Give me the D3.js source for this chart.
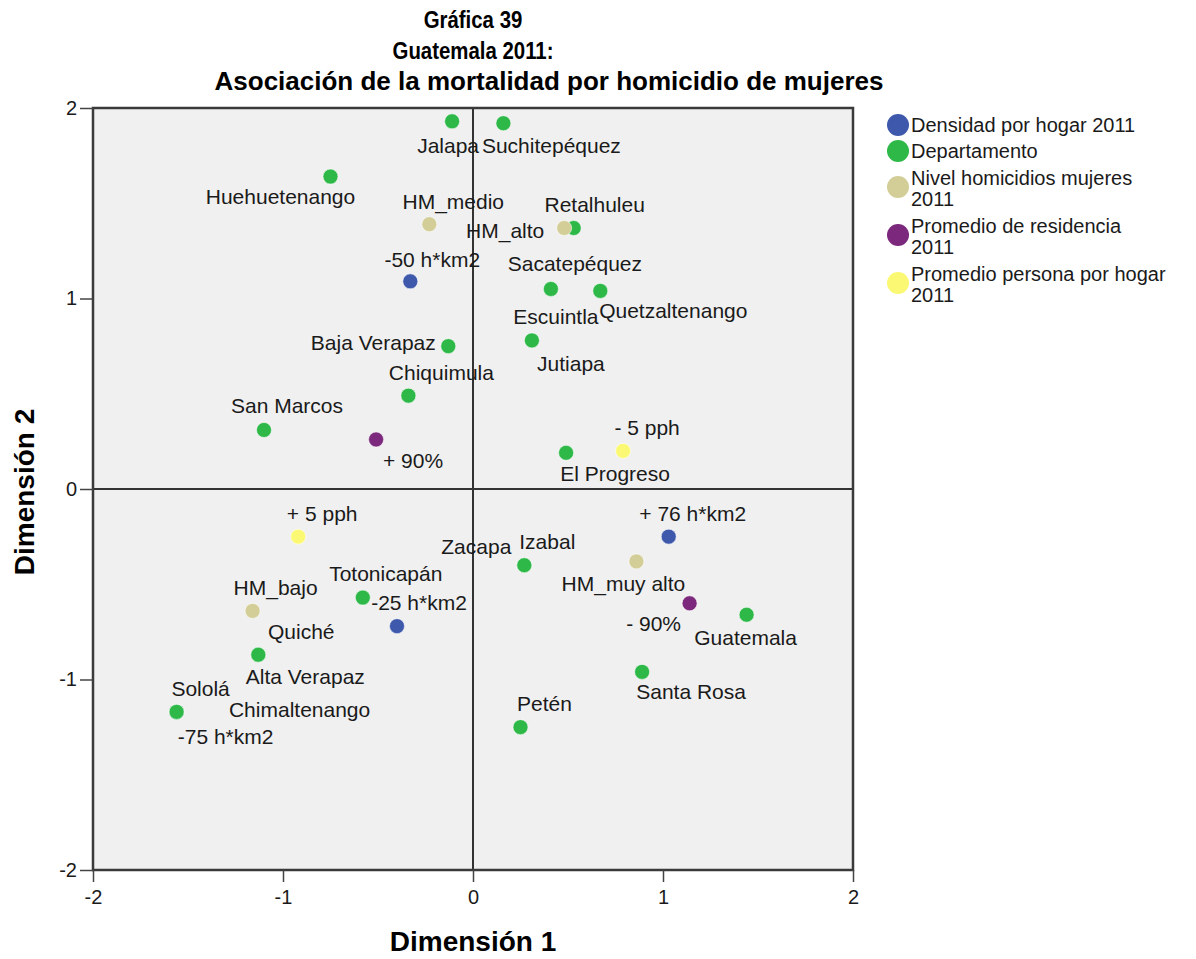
<!DOCTYPE html>
<html>
<head>
<meta charset="utf-8">
<script src="https://cdn.jsdelivr.net/npm/d3@7"></script>
<style>
  html, body { margin: 0; padding: 0; background: #ffffff; }
  svg { display: block; }
  text { font-family: Arial, "Liberation Sans", sans-serif; fill: #1a1a1a; }
</style>
</head>
<body>
<svg id="chart" width="1196" height="959"></svg>
<script>
// ---------------- DATA ----------------
const titleLines = ["Gráfica 39", "Guatemala 2011:", "Asociación de la mortalidad por homicidio de mujeres"];
const xAxisTitle = "Dimensión 1";
const yAxisTitle = "Dimensión 2";
const tickValues = [-2, -1, 0, 1, 2];

const groupNames = ["Densidad por hogar 2011", "Departamento", "Nivel homicidios mujeres 2011",
                    "Promedio de residencia 2011", "Promedio persona por hogar 2011"];
const legendLines = [["Densidad por hogar 2011"], ["Departamento"], ["Nivel homicidios mujeres", "2011"],
                     ["Promedio de residencia", "2011"], ["Promedio persona por hogar", "2011"]];
const groupColors = ["#3E58AC", "#2EB848", "#D3CE97", "#7C287D", "#FBF873"];

const densidadLabels = ["-50 h*km2", "-25 h*km2", "-75 h*km2", "+ 76 h*km2"];
const densidadDim1   = [-0.33, -0.40, -1.56, 1.03];
const densidadDim2   = [1.09, -0.72, -1.17, -0.25];

const departamentoLabels = ["Alta Verapaz", "Baja Verapaz", "Chimaltenango", "Chiquimula", "El Progreso",
  "Escuintla", "Guatemala", "Huehuetenango", "Izabal", "Jalapa", "Jutiapa", "Petén", "Quetzaltenango",
  "Quiché", "Retalhuleu", "Sacatepéquez", "San Marcos", "Santa Rosa", "Sololá", "Suchitepéquez",
  "Totonicapán", "Zacapa"];
const departamentoDim1 = [-1.13, -0.13, -1.56, -0.34, 0.49, 0.41, 1.44, -0.75, 0.27, -0.11, 0.31, 0.25, 0.67,
  -1.13, 0.53, 0.41, -1.10, 0.89, -1.56, 0.16, -0.58, 0.27];
const departamentoDim2 = [-0.87, 0.75, -1.17, 0.49, 0.19, 1.05, -0.66, 1.64, -0.40, 1.93, 0.78, -1.25, 1.04,
  -0.87, 1.37, 1.05, 0.31, -0.96, -1.17, 1.92, -0.57, -0.40];

const nivelLabels = ["HM_medio", "HM_alto", "HM_bajo", "HM_muy alto"];
const nivelDim1   = [-0.23, 0.48, -1.16, 0.86];
const nivelDim2   = [1.39, 1.37, -0.64, -0.38];

const residenciaLabels = ["+ 90%", "- 90%"];
const residenciaDim1   = [-0.51, 1.14];
const residenciaDim2   = [0.26, -0.60];

const personaLabels = ["- 5 pph", "+ 5 pph"];
const personaDim1   = [0.79, -0.92];
const personaDim2   = [0.20, -0.25];

// label placement (pixel offsets of the label centre from its marker)
const labelOffset = {
  "Jalapa": [-4, 24], "Suchitepéquez": [48, 22], "Huehuetenango": [-50, 20], "HM_medio": [24, -23],
  "HM_alto": [-59, 2], "Retalhuleu": [21, -24], "-50 h*km2": [22, -22], "Sacatepéquez": [24, -25],
  "Quetzaltenango": [73, 20], "Escuintla": [5, 28], "Jutiapa": [39, 23], "Baja Verapaz": [-75, -4],
  "Chiquimula": [33, -23], "San Marcos": [23, -24], "+ 90%": [37, 21], "- 5 pph": [24, -23],
  "El Progreso": [49, 21], "+ 5 pph": [24, -23], "Zacapa": [-48, -19], "Izabal": [23, -24],
  "Totonicapán": [23, -24], "-25 h*km2": [22, -24], "HM_bajo": [23, -23], "Quiché": [43, -23],
  "Alta Verapaz": [47, 22], "Sololá": [24, -23], "Chimaltenango": [123, -2], "-75 h*km2": [49, 25],
  "+ 76 h*km2": [24, -23], "HM_muy alto": [-13, 22], "- 90%": [-36, 20], "Guatemala": [-1, 23],
  "Santa Rosa": [49, 20], "Petén": [24, -24]
};

// ---------------- BUILD ----------------
const groupData = [
  [densidadLabels, densidadDim1, densidadDim2],
  [departamentoLabels, departamentoDim1, departamentoDim2],
  [nivelLabels, nivelDim1, nivelDim2],
  [residenciaLabels, residenciaDim1, residenciaDim2],
  [personaLabels, personaDim1, personaDim2]
];
const points = [];
groupData.forEach((g, gi) => {
  g[0].forEach((lab, i) => points.push({ label: lab, group: gi, d1: g[1][i], d2: g[2][i] }));
});

const svg = d3.select("#chart");
const plot = { left: 93, right: 853, top: 108, bottom: 870 };

const x = d3.scaleLinear().domain([-2, 2]).range([plot.left, plot.right]);
const y = d3.scaleLinear().domain([-2, 2]).range([plot.bottom, plot.top]);

// titles
const titleX = [473, 473, 549];
const titleY = [28, 59, 90];
const titleSize = [24, 24, 26];
const titleScale = [0.85, 0.85, 1];
titleLines.forEach((t, i) => {
  svg.append("g")
    .attr("transform", `translate(${titleX[i]},${titleY[i]}) scale(${titleScale[i]},1)`)
    .append("text")
    .attr("class", "title")
    .attr("text-anchor", "middle")
    .style("font-weight", "bold")
    .style("font-size", titleSize[i] + "px")
    .style("fill", "#000")
    .text(t);
});

// plot background
svg.append("rect")
  .attr("x", plot.left).attr("y", plot.top)
  .attr("width", plot.right - plot.left).attr("height", plot.bottom - plot.top)
  .attr("fill", "#F0F0F0");

// reference lines
svg.append("line").attr("x1", x(0)).attr("x2", x(0)).attr("y1", plot.top).attr("y2", plot.bottom)
  .attr("stroke", "#333").attr("stroke-width", 2);
svg.append("line").attr("x1", plot.left).attr("x2", plot.right).attr("y1", y(0)).attr("y2", y(0))
  .attr("stroke", "#333").attr("stroke-width", 2);

// frame
svg.append("rect")
  .attr("x", plot.left).attr("y", plot.top)
  .attr("width", plot.right - plot.left).attr("height", plot.bottom - plot.top)
  .attr("fill", "none").attr("stroke", "#3a3a3a").attr("stroke-width", 2.5);

// axes
const fmt = d => String(d);
const xAxis = svg.append("g").attr("transform", `translate(0,${plot.bottom})`)
  .call(d3.axisBottom(x).tickValues(tickValues).tickFormat(fmt).tickSize(12).tickPadding(8));
const yAxis = svg.append("g").attr("transform", `translate(${plot.left},0)`)
  .call(d3.axisLeft(y).tickValues(tickValues).tickFormat(fmt).tickSize(13).tickPadding(3));
[xAxis, yAxis].forEach(a => {
  a.select(".domain").remove();
  a.selectAll(".tick line").attr("stroke", "#444").attr("stroke-width", 1.5);
  a.selectAll(".tick text").style("font-size", "20px").style("font-family", "Arial, 'Liberation Sans', sans-serif").attr("fill", "#1a1a1a");
});

// axis titles
svg.append("text")
  .attr("x", x(0)).attr("y", 951)
  .attr("text-anchor", "middle")
  .style("font-weight", "bold").style("font-size", "28px").style("fill", "#000")
  .text(xAxisTitle);
svg.append("text")
  .attr("transform", `translate(34,${y(0) + 3}) rotate(-90)`)
  .attr("text-anchor", "middle")
  .style("font-weight", "bold").style("font-size", "28px").style("fill", "#000")
  .text(yAxisTitle);

// points
svg.append("g").selectAll("circle").data(points).join("circle")
  .attr("cx", d => x(d.d1))
  .attr("cy", d => y(d.d2))
  .attr("r", 7.5)
  .attr("fill", d => groupColors[d.group])
  .attr("stroke", "rgba(255,255,255,0.55)")
  .attr("stroke-width", 1);

// labels
svg.append("g").selectAll("text").data(points).join("text")
  .attr("x", d => x(d.d1) + (labelOffset[d.label] || [0, 0])[0])
  .attr("y", d => y(d.d2) + (labelOffset[d.label] || [0, 0])[1])
  .attr("text-anchor", "middle")
  .attr("dominant-baseline", "central")
  .style("font-size", "21px")
  .text(d => d.label);

// legend
const legend = svg.append("g").attr("transform", "translate(898,0)");
const legendY = [125, 151, 178, 226, 274];
legendLines.forEach((lines, i) => {
  const lg = legend.append("g").attr("transform", `translate(0,${legendY[i]})`);
  lg.append("circle").attr("cx", 0).attr("cy", lines.length > 1 ? 9 : 0).attr("r", 11)
    .attr("fill", groupColors[i]);
  lines.forEach((t, j) => {
    lg.append("text").attr("x", 13).attr("y", j * 21 + 7)
      .style("font-size", "20px")
      .text(t);
  });
});
</script>
</body>
</html>
